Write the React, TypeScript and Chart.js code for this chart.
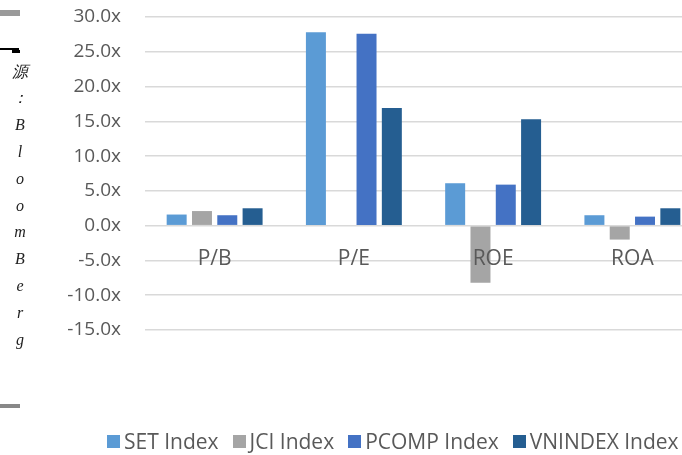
import React, { useEffect, useRef } from "react";
import { Chart, registerables } from "chart.js";

Chart.register(...registerables);

const categories = ["P/B", "P/E", "ROE", "ROA"];
const seriesNames = ["SET Index", "JCI Index", "PCOMP Index", "VNINDEX Index"];
const setValues = [1.6, 27.8, 6.1, 1.5];
const jciValues: (number | null)[] = [2.1, null, -8.2, -2.0];
const pcompValues = [1.5, 27.6, 5.9, 1.3];
const vnValues = [2.5, 16.9, 15.3, 2.5];
const seriesColors = ["#5B9BD5", "#A5A5A5", "#4472C4", "#255E91"];
const yMin = -15;
const yMax = 30;
const yStep = 5;
const sideChars = ["源", "：", "B", "l", "o", "o", "m", "B", "e", "r", "g"];

const FONT = "'Open Sans', sans-serif";
const TEXT = "#595959";

const categoryLabelPlugin = {
  id: "categoryLabels",
  afterDatasetsDraw(chart: any) {
    const x = chart.scales.x;
    const y = chart.scales.y;
    const ctx = chart.ctx;
    ctx.save();
    ctx.font = `21px ${FONT}`;
    ctx.fillStyle = TEXT;
    ctx.textAlign = "center";
    ctx.textBaseline = "middle";
    const y0 = y.getPixelForValue(0);
    categories.forEach((c, i) => {
      ctx.fillText(c, x.getPixelForValue(i), y0 + 33);
    });
    ctx.restore();
  },
};

export default function App() {
  const ref = useRef<HTMLCanvasElement>(null);
  useEffect(() => {
    const all = [setValues, jciValues, pcompValues, vnValues];
    const chart = new Chart(ref.current!, {
      type: "bar",
      data: {
        labels: categories,
        datasets: all.map((d, i) => ({
          label: seriesNames[i],
          data: d as any,
          backgroundColor: seriesColors[i],
          borderWidth: 0,
          categoryPercentage: 0.727,
          barPercentage: 0.79,
        })),
      },
      options: {
        responsive: false,
        animation: false,
        devicePixelRatio: 1,
        layout: { padding: { left: 0, top: 17, right: 78, bottom: 125 } },
        plugins: { legend: { display: false }, tooltip: { enabled: false } },
        scales: {
          x: { display: false },
          y: {
            min: yMin,
            max: yMax,
            border: { display: false },
            grid: {
              color: "#d9d9d9",
              lineWidth: 1.5,
              drawTicks: true,
              tickLength: 24,
              tickColor: "rgba(0,0,0,0)",
            },
            ticks: {
              stepSize: yStep,
              padding: 0,
              color: TEXT,
              font: { family: "Open Sans", size: 19 },
              callback: (v: any) => Number(v).toFixed(1) + "x",
            },
            afterFit: (s: any) => {
              s.width = 145;
            },
          },
        },
      },
      plugins: [categoryLabelPlugin],
    });
    return () => chart.destroy();
  }, []);

  return (
    <div
      style={{
        position: "fixed",
        left: 0,
        top: 0,
        width: 682,
        height: 455,
        overflow: "hidden",
        background: "#fff",
      }}
    >
      <canvas ref={ref} width={780} height={455} style={{ position: "absolute", left: 0, top: 0 }} />
      <div style={{ position: "absolute", left: 0, top: 10, width: 20, height: 6, background: "#9a9a9a" }} />
      <div style={{ position: "absolute", left: 0, top: 48, width: 19, height: 2, background: "#000" }} />
      <div style={{ position: "absolute", left: 12, top: 50, width: 8, height: 3, background: "#000" }} />
      <div style={{ position: "absolute", left: 0, top: 404, width: 20, height: 4, background: "#888" }} />
      <div
        style={{
          position: "absolute",
          left: 0,
          top: 58.6,
          width: 40,
          textAlign: "center",
          fontFamily: "'Liberation Serif', serif",
          fontStyle: "italic",
          fontSize: 16,
          lineHeight: "26.8px",
          color: "#222",
        }}
      >
        {sideChars.map((c, i) => (
          <div key={i}>{c}</div>
        ))}
      </div>
      <div
        style={{
          position: "absolute",
          left: 107,
          top: 430,
          display: "flex",
          alignItems: "center",
          whiteSpace: "nowrap",
          fontFamily: FONT,
          fontSize: 21,
          lineHeight: "22px",
          color: TEXT,
        }}
      >
        {seriesNames.map((n, i) => (
          <div key={n} style={{ display: "flex", alignItems: "center", marginRight: 14 }}>
            <span style={{ display: "inline-block", width: 13, height: 13, background: seriesColors[i], marginRight: 4 }} />
            <span>{n}</span>
          </div>
        ))}
      </div>
    </div>
  );
}
